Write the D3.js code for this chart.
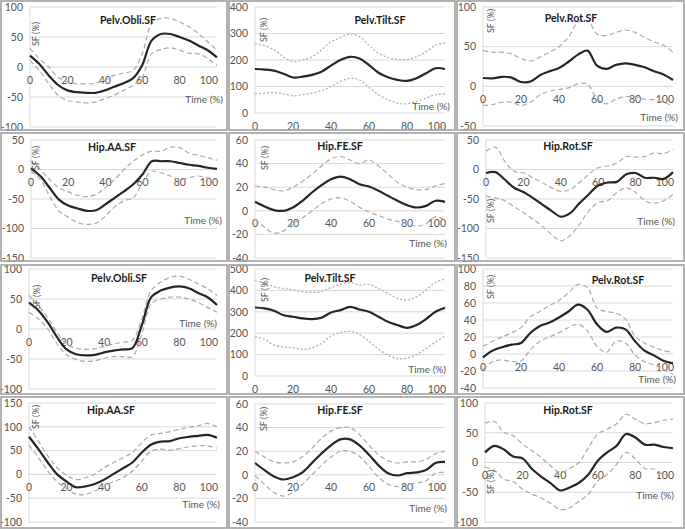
<!DOCTYPE html>
<html><head><meta charset="utf-8">
<script src="https://cdn.jsdelivr.net/npm/d3@7"></script>
<style>body{margin:0;background:#fff}svg{display:block}text{font-family:Lato,"Open Sans",sans-serif}</style>
</head><body><svg id="c" width="685" height="530"></svg>
<script>
// ---------- DATA ----------
const timePct = [0,5,10,15,20,25,30,35,40,45,50,55,60,65,70,75,80,85,90,95,100];
const xTicks = [0,20,40,60,80,100];
const titles = ["Pelv.Obli.SF","Pelv.Tilt.SF","Pelv.Rot.SF","Hip.AA.SF","Hip.FE.SF","Hip.Rot.SF",
                "Pelv.Obli.SF","Pelv.Tilt.SF","Pelv.Rot.SF","Hip.AA.SF","Hip.FE.SF","Hip.Rot.SF"];
const yTicks = [
  [-100,-50,0,50,100],[0,100,200,300,400],[-50,0,50,100],
  [-150,-100,-50,0,50],[-40,-20,0,20,40,60],[-150,-100,-50,0,50],
  [-100,-50,0,50,100],[0,100,200,300,400,500],[-40,-20,0,20,40,60,80,100],
  [-100,-50,0,50,100,150],[-40,-20,0,20,40,60],[-100,-50,0,50,100]
];
const xLabel = "Time (%)";
const yLabel = "SF (%)";

const mean1  = [19,5,-14,-30,-39,-42,-43,-43,-39,-33,-27,-19,3,44,55,55,50,44,36,28,16];
const upper1 = [31,14,0,-17,-25,-28,-28,-27,-22,-14,-10,-6,22,72,81,81,75,67,56,42,28];
const lower1 = [11,-6,-28,-47,-56,-58,-60,-58,-53,-47,-39,-31,-17,22,29,32,28,23,22,14,3];

const mean2  = [166,164,160,148,134,137,144,156,179,200,212,206,181,152,135,125,121,131,150,169,166];
const upper2 = [262,254,238,212,194,200,212,238,269,285,298,288,256,225,210,202,202,212,231,256,265];
const lower2 = [72,75,77,72,65,69,75,85,100,119,131,125,97,69,50,37,35,44,56,69,72];

const mean3  = [10.5,10,12,11,5.5,6,14,19,23,31,40,45,26,22,27,29,27,24,19,15,8];
const upper3 = [45,43,43,41,35,32,37,43,50,62,81,83,66,64,68,71,68,62,56,52,43];
const lower3 = [-24,-23,-20,-20,-24,-20,-11,-6,-4,-2,3,3,-16,-22,-16,-13,-13,-16,-17,-20,-25];

const mean4  = [2,-11,-31,-51,-61,-66,-70,-69,-59,-48,-37,-25,-8,14,14,14,11,8,6,3,1];
const upper4 = [14,0,-17,-31,-38,-44,-46,-42,-31,-17,0,14,25,31,31,38,37,28,24,20,16];
const lower4 = [-3,-17,-45,-70,-81,-90,-93,-91,-79,-63,-53,-48,-22,-3,-6,-11,-17,-14,-11,-14,-17];

const mean5  = [7.6,3.7,0.6,0,2.8,8.5,15.5,21.7,26.8,29,26.8,22.5,20.6,17,12.7,8.5,4.8,2.8,4.2,8.5,7.6];
const upper5 = [21,20,18,17,20,25,31,38,44,46,43,40,43,38,31,24,20,18,18,21,23];
const lower5 = [-7,-14,-19,-17,-11,-6,0,6,10,11,8,3,-1,-4,-7,-9,-11,-13,-11,-5,-8];

const mean6  = [-6,-4.5,-17,-31,-38,-48,-59,-70,-80,-74,-57,-42,-27,-22,-21,-8,-6,-14,-14,-16,-4.5];
const upper6 = [31,38,14,-3,-6,-14,-22,-31,-37,-34,-22,-8,3,6,11,22,21,22,28,27,34];
const lower6 = [-45,-48,-53,-63,-73,-84,-96,-110,-121,-112,-93,-70,-56,-53,-39,-31,-39,-53,-57,-53,-42];

const mean7  = [44,31,11,-14,-34,-42,-44,-43,-39,-36,-34,-32,6,53,64,69,71,68,60,53,40];
const upper7 = [56,39,19,-6,-25,-32,-34,-33,-29,-25,-22,-19,17,64,78,86,88,83,75,67,56];
const lower7 = [28,17,0,-25,-43,-51,-54,-53,-49,-46,-46,-46,-8,42,50,53,53,50,44,36,28];

const mean8  = [320,316,305,284,277,269,266,272,297,308,323,311,300,277,253,238,225,238,266,300,319];
const upper8 = [448,433,417,409,402,394,391,394,413,428,437,425,428,409,386,363,355,370,402,437,453];
const lower8 = [183,172,144,136,131,125,131,152,187,203,209,194,162,125,97,81,84,100,128,159,187];

const mean9  = [-4,4,8,11,13,25,33,37,43,50,58,52,35,26,31,29,15,4,-1.6,-8,-11];
const upper9 = [9,15,20,25,31,44,50,57,63,72,82,78,54,50,48,41,21,13,8,4,2];
const lower9 = [-18,-9,-7,-9,-8,5,15,20,25,31,35,27,9,2,15,13,-1,-9,-13,-18,-24];

const mean10  = [79,53,25,0,-15,-27,-25,-20,-11,1,13,25,46,63,69,70,76,79,81,83,77];
const upper10 = [100,70,39,14,-2,-11,-7,1,14,25,35,46,67,83,86,90,95,99,102,107,100];
const lower10 = [62,35,7,-15,-30,-42,-42,-35,-25,-15,-7,7,28,49,53,51,54,58,60,60,55];

const mean11  = [10,4,-1.4,-4,-2,2,10,18,25,30,30,25,17,8,1.4,-0.6,1.4,2,4,10,11];
const upper11 = [20,15,11,10,11,15.5,22.5,31,37,40,40,34,25,17,12,10,11,11,13,18,20];
const lower11 = [-0.6,-8,-15,-18,-15,-8,0,8,15,20,20,15.5,7,-2,-8,-10,-8,-7,-5,1.4,2];

const mean12  = [17,28,22,10,7,-11,-24,-35,-47,-42,-34,-20,3,17,28,48,42,30,30,26,24];
const upper12 = [66,69,51,45,31,20,8,-6,-17,-10,0,25,48,56,65,81,73,65,67,71,73];
const lower12 = [-8,-13,-28,-32,-45,-53,-60,-69,-79,-76,-65,-53,-31,-20,-3,17,6,-10,-11,-20,-20];

const means  = [mean1,mean2,mean3,mean4,mean5,mean6,mean7,mean8,mean9,mean10,mean11,mean12];
const uppers = [upper1,upper2,upper3,upper4,upper5,upper6,upper7,upper8,upper9,upper10,upper11,upper12];
const lowers = [lower1,lower2,lower3,lower4,lower5,lower6,lower7,lower8,lower9,lower10,lower11,lower12];

// ---------- LAYOUT (local panel coordinates) ----------
const colX = [0,228,456], rowY = [0,130,262,395];
const frameX = [1,229,457], frameW = [226,226,227];
const frameY = [1,133,265,397], frameH = [129,128,129,131];
const layout = [
  {x0:30,yt:7, yb:127, t:[128,20], sf:[36,34], tm:[223,99], dot:false},
  {x0:27,yt:7, yb:113, t:[152,20], sf:[36,30], tm:[222,106], dot:true},
  {x0:27,yt:7, yb:126, t:[115,18], sf:[35,21], tm:[222,117], dot:false},
  {x0:31,yt:10,yb:128, t:[112,17], sf:[36,28], tm:[222,90], dot:false},
  {x0:27,yt:10,yb:128, t:[112,16], sf:[37,28], tm:[219,113], dot:false},
  {x0:30,yt:10,yb:128, t:[112,16], sf:[35,81], tm:[219,91], dot:false},
  {x0:29,yt:7, yb:127, t:[119,16], sf:[37,35], tm:[217,61], dot:false},
  {x0:27,yt:7, yb:114, t:[102,16], sf:[37,28], tm:[218,107], dot:true},
  {x0:27,yt:7, yb:126, t:[162,18], sf:[35,25], tm:[220,117], dot:false},
  {x0:29,yt:8, yb:127, t:[111,15], sf:[36,22], tm:[220,109], dot:false},
  {x0:27,yt:9, yb:127, t:[112,15], sf:[36,24], tm:[219,113], dot:false},
  {x0:29,yt:8, yb:127, t:[112,15], sf:[35,87], tm:[218,100], dot:false}
];

const svg = d3.select("#c");
const labelCol = "#555555", gridCol = "#d9d9d9";

titles.forEach((title, i) => {
  const r = Math.floor(i/3), c = i%3, L = layout[i];
  const g = svg.append("g").attr("transform", `translate(${colX[c]},${rowY[r]})`);
  svg.append("rect").attr("x", frameX[c]).attr("y", frameY[r])
     .attr("width", frameW[c]).attr("height", frameH[r])
     .attr("fill","none").attr("stroke","#a0a0a0").attr("stroke-width",1.6);
  const ticks = yTicks[i];
  const y = d3.scaleLinear().domain([d3.min(ticks), d3.max(ticks)]).range([L.yb, L.yt]);
  const x = d3.scaleLinear().domain([0,100]).range([L.x0, 217]);
  g.selectAll(".grid").data(ticks).enter().append("line")
    .attr("x1", L.x0).attr("x2", 217).attr("y1", d=>y(d)).attr("y2", d=>y(d))
    .attr("stroke", gridCol).attr("stroke-width", 1);
  g.append("line").attr("x1",L.x0).attr("x2",L.x0).attr("y1",L.yt).attr("y2",L.yb)
    .attr("stroke", gridCol).attr("stroke-width",1);
  g.selectAll(".yl").data(ticks).enter().append("text")
    .attr("x", L.x0 - 7).attr("y", d=>y(d)+3.8).attr("text-anchor","end")
    .attr("font-size", 10.5).attr("fill", labelCol).text(d=>d);
  const y0 = y(Math.max(0, d3.min(ticks)));
  g.selectAll(".xl").data(xTicks).enter().append("text")
    .attr("x", (d,k)=> k===xTicks.length-1 ? x(d)+1 : x(d))
    .attr("y", y0 + 16.5)
    .attr("text-anchor", (d,k)=> k===xTicks.length-1 ? "end" : "middle")
    .attr("font-size", 10.5).attr("fill", labelCol).text(d=>d);
  const line = vals => d3.line().x((d,k)=>x(timePct[k])).y(d=>y(d)).curve(d3.curveCatmullRom.alpha(0.5))(vals);
  [uppers[i], lowers[i]].forEach(vals => {
    g.append("path").attr("d", line(vals)).attr("fill","none")
      .attr("stroke", L.dot ? "#b0b0b0" : "#a9a9a9").attr("stroke-width", L.dot ? 1.3 : 1.2)
      .attr("stroke-dasharray", L.dot ? "2,2" : "5,3");
  });
  g.append("path").attr("d", line(means[i])).attr("fill","none")
    .attr("stroke","#262626").attr("stroke-width",2.2).attr("stroke-linejoin","round");
  g.append("text").attr("x", L.t[0]).attr("y", L.t[1]+3.8).attr("text-anchor","middle")
    .attr("font-size", 10.5).attr("font-weight","bold").attr("fill","#1a1a1a").text(title);
  g.append("text").attr("transform", `translate(${L.sf[0]+3},${L.sf[1]}) rotate(-90)`)
    .attr("text-anchor","middle").attr("font-size", 9).attr("fill", labelCol).text(yLabel);
  g.append("text").attr("x", L.tm[0]).attr("y", L.tm[1]+3.5).attr("text-anchor","end")
    .attr("font-size", 10).attr("fill", labelCol).text(xLabel);
});
</script></body></html>
